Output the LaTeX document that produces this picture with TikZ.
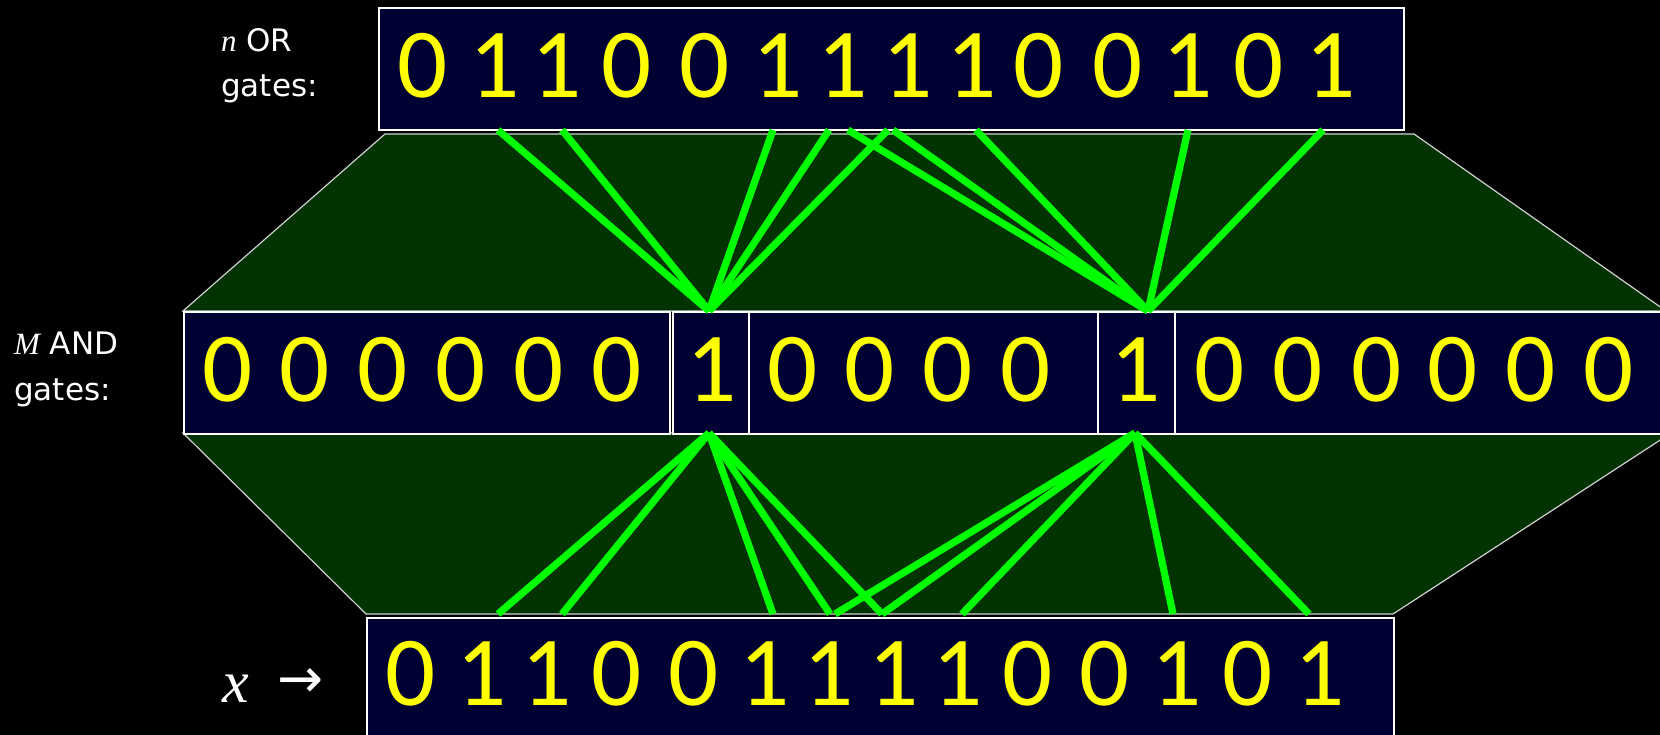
\documentclass[tikz,border=0pt]{standalone}
\usepackage{fontspec}
\setmainfont{DejaVu Sans}
\newfontfamily\varfont{Liberation Serif}
\newfontfamily\bitfont{Carlito}
\definecolor{navy}{HTML}{000033}
\definecolor{dkgreen}{HTML}{003300}
\definecolor{wiregreen}{HTML}{00FF00}
\definecolor{bityellow}{HTML}{FFFF00}
\definecolor{edgegray}{HTML}{D0D0D0}
\newcommand{\mvar}[1]{{\varfont\itshape #1}}
\tikzset{
  bit/.style={text=bityellow, font=\bitfont\fontsize{99}{99}\selectfont, inner sep=0pt},
  lbl/.style={text=white, font=\fontsize{31}{34}\selectfont, inner sep=0pt, anchor=base west},
  wire/.style={draw=wiregreen, line width=7.2pt},
  bitbox/.style={draw=white, line width=2pt, fill=navy},
  trap/.style={fill=dkgreen, draw=edgegray, line width=1.2pt}
}
\begin{document}
\begin{tikzpicture}[x=1pt,y=-1pt]
\useasboundingbox (0,0) rectangle (1660,735);
\fill[black] (0,0) rectangle (1660,735);
\clip (0,0) rectangle (1660,735);

% trapezoids
\draw[trap] (385,134) -- (1414,134) -- (1666,311) -- (183,311) -- cycle;
\draw[trap] (183,433) -- (1671,433) -- (1393,614) -- (366,614) -- cycle;

% boxes
\node[bitbox, anchor=north west, minimum width=1025pt, minimum height=122pt] (topbox) at (378,7) {};
\node[bitbox, anchor=north west, minimum width=486pt, minimum height=122pt] (mid1) at (183,311) {};
\node[bitbox, anchor=north west, minimum width=76pt, minimum height=122pt] (mid2) at (672,311) {};
\node[bitbox, anchor=north west, minimum width=349pt, minimum height=122pt] (mid3) at (748,311) {};
\node[bitbox, anchor=north west, minimum width=77pt, minimum height=122pt] (mid4) at (1097,311) {};
\node[bitbox, anchor=north west, minimum width=520pt, minimum height=122pt] (mid5) at (1174,311) {};
\node[bitbox, anchor=north west, minimum width=1027pt, minimum height=140pt] (botbox) at (366,617) {};

% digits
\foreach \x/\d [count=\i] in {423/0,495/1,557/1,627/0,705/0,778/1,843/1,908/1,972/1,1039/0,1118/0,1188/1,1259/0,1331/1}
  \node[bit] (top\i) at (\x,65.5) {\d};
\foreach \x/\d [count=\i] in {228/0,305/0,383/0,460.5/0,539/0,616.6/0,711.6/1,793/0,870/0,948/0,1026/0,1136/1,1220/0,1297.5/0,1377/0,1453/0,1530.5/0,1608.5/0}
  \node[bit] (midbit\i) at (\x,370) {\d};
\foreach \x/\d [count=\i] in {411/0,482/1,547/1,617/0,694/0,765/1,829/1,894/1,958/1,1027.5/0,1105/0,1177/1,1247.6/0,1320/1}
  \node[bit] (bot\i) at (\x,674) {\d};

% labels
\node[lbl] (orlbl) at (221,52) {\mvar{n} OR};
\node[lbl] (orgates) at (221,97) {gates:};
\node[lbl] (andlbl) at (14,355) {\mvar{M} AND};
\node[lbl] (andgates) at (14,400) {gates:};
\node[text=white, inner sep=0pt, anchor=base west, font=\fontsize{60}{60}\selectfont] (xlbl) at (222,702) {\mvar{x}};
\node[text=white, inner sep=0pt, anchor=west, font=\fontsize{55}{55}\selectfont] (xarrow) at (277,683) {→};

% connector end points
\coordinate (t1) at (498,130);
\coordinate (t2) at (562,130);
\coordinate (t3) at (773,130);
\coordinate (t4) at (829,130);
\coordinate (t5) at (848,130);
\coordinate (t6) at (888,130);
\coordinate (t7) at (893,130);
\coordinate (t8) at (976,130);
\coordinate (t9) at (1188,130);
\coordinate (t10) at (1323,130);
\coordinate (aTL) at (709,311);
\coordinate (aTR) at (1148,311);
\coordinate (aBL) at (709,433);
\coordinate (aBR) at (1135,433);
\coordinate (b1) at (498,614);
\coordinate (b2) at (562,614);
\coordinate (b3) at (773,614);
\coordinate (b4) at (830,614);
\coordinate (b5) at (835,614);
\coordinate (b6) at (882,614);
\coordinate (b7) at (962,614);
\coordinate (b8) at (1173,614);
\coordinate (b9) at (1309,614);

% wires
\foreach \s in {t1,t2,t3,t4,t6} \draw[wire] (\s) -- (aTL);
\foreach \s in {t5,t7,t8,t9,t10} \draw[wire] (\s) -- (aTR);
\foreach \s in {b1,b2,b3,b4,b6} \draw[wire] (aBL) -- (\s);
\foreach \s in {b5,b6,b7,b8,b9} \draw[wire] (aBR) -- (\s);
\end{tikzpicture}
\end{document}
